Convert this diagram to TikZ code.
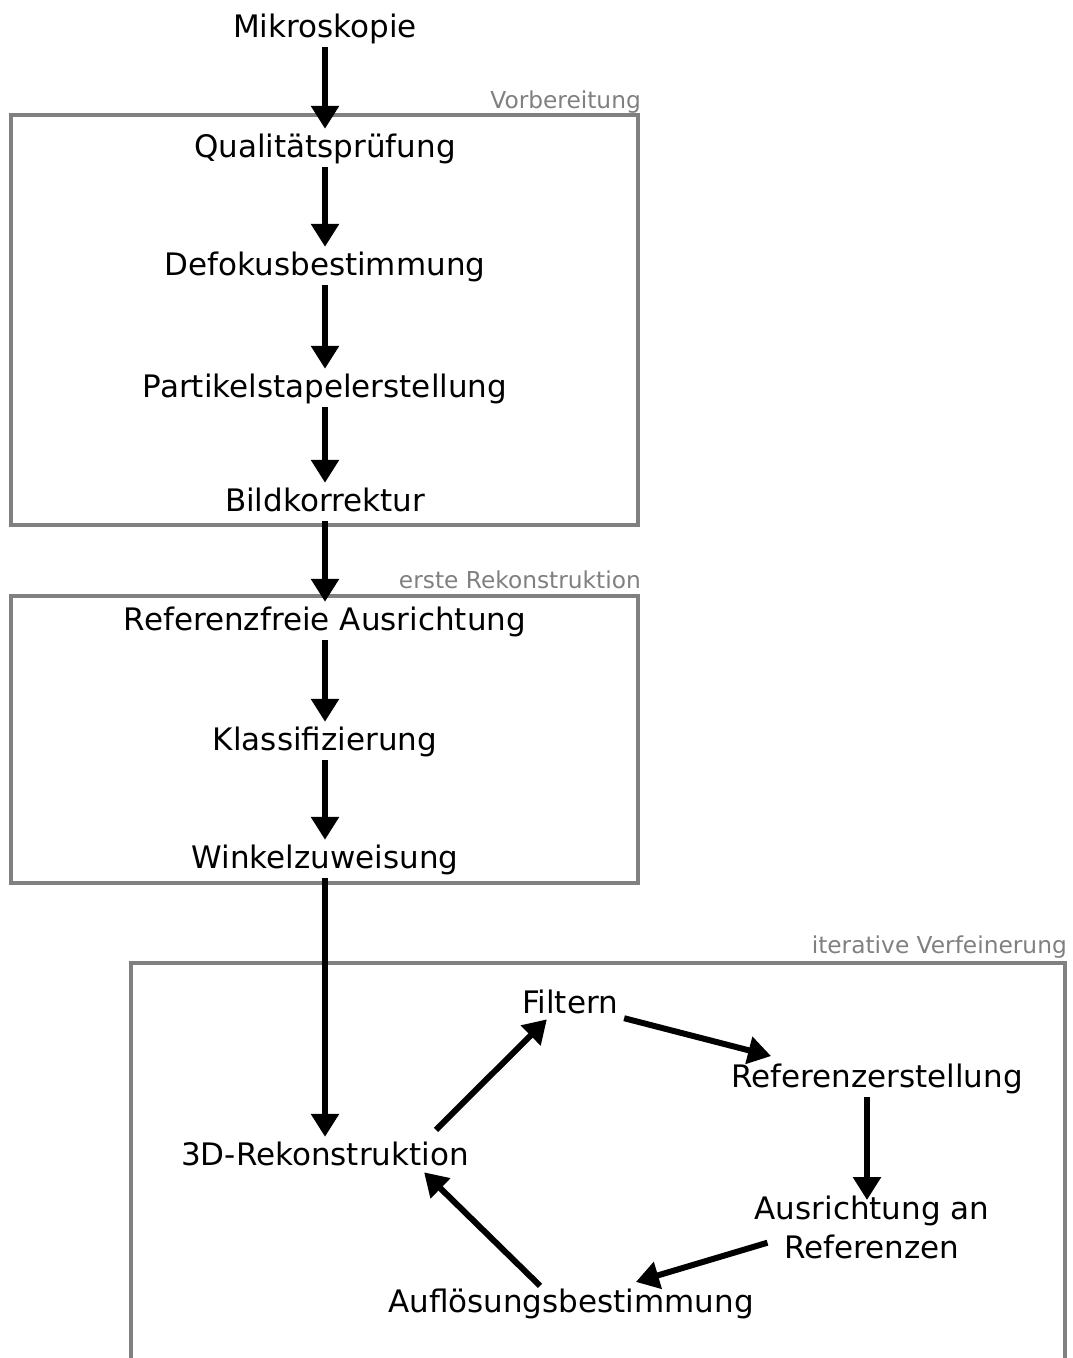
\documentclass[tikz,border=0pt]{standalone}
\usepackage{fontspec}
\setmainfont{DejaVu Sans}
\usetikzlibrary{arrows.meta}

\tikzset{
  steptext/.style={font=\fontsize{31}{39}\selectfont, inner sep=3pt},
  stage/.style={steptext, text height=22pt, text depth=7pt, anchor=base},
  phase/.style={draw=gray, line width=4.5pt},
  phaselabel/.style={font=\fontsize{23.3}{28}\selectfont, text=gray, anchor=base east, inner sep=0pt},
  flow/.style={-{Triangle[length=23pt,width=27pt]}, line width=6pt, shorten >=3pt}
}

\begin{document}
\begin{tikzpicture}[x=1pt,y=-1pt]
  \useasboundingbox (0,0) rectangle (1072,1358);
  \clip (0,0) rectangle (1072,1358);

  % phases
  \draw[phase] (11,115) rectangle (638,525);
  \draw[phase] (11,596) rectangle (638,883);
  \draw[phase] (131,963) rectangle (1065,1420);
  \node[phaselabel] (lvor) at (641,108) {Vorbereitung};
  \node[phaselabel] (lers) at (641,588) {erste Rekonstruktion};
  \node[phaselabel] (lite) at (1067,953) {iterative Verfeinerung};

  % linear part
  \node[stage] (mik) at (325,37) {Mikroskopie};
  \node[stage] (qual) at (325,157) {Qualitätsprüfung};
  \node[stage] (defok) at (325,275) {Defokusbestimmung};
  \node[stage] (part) at (325,397) {Partikelstapelerstellung};
  \node[stage] (bild) at (325,511) {Bildkorrektur};
  \node[stage] (rfrei) at (325,630) {Referenzfreie Ausrichtung};
  \node[stage] (klass) at (325,750) {Klassifizierung};
  \node[stage] (wink) at (325,868) {Winkelzuweisung};

  % refinement loop
  \node[stage] (rek) at (325,1165) {3D-Rekonstruktion};
  \node[stage] (filt) at (570,1013) {Filtern};
  \node[stage] (refe) at (877,1087) {Referenzerstellung};
  \node[steptext, align=center, anchor=north] (ausr) at (872,1193) {Ausrichtung an\\Referenzen};
  \node[stage] (aufl) at (571,1312) {Auflösungsbestimmung};

  \draw[flow] (mik) -- (qual);
  \draw[flow] (qual) -- (defok);
  \draw[flow] (defok) -- (part);
  \draw[flow] (part) -- (bild);
  \draw[flow] (bild) -- (rfrei);
  \draw[flow] (rfrei) -- (klass);
  \draw[flow] (klass) -- (wink);
  \draw[flow] (wink) -- (rek);

  \draw[flow] ([shift={(-36,-10)}]rek.north east) -- ([shift={(-21,-6)}]filt.south);
  \draw[flow] ([shift={(3,-5)}]filt.south east) -- ([shift={(46,-5)}]refe.north west);
  \draw[flow, shorten >=-7pt] ([xshift=-10pt]refe.south) -- ([xshift=-5pt]ausr.north);
  \draw[flow] ([shift={(16,15)}]ausr.west) -- ([shift={(62,-4)}]aufl.north);
  \draw[flow] ([shift={(-31,-1)}]aufl.north) -- ([shift={(-50,-5)}]rek.south east);
\end{tikzpicture}
\end{document}
